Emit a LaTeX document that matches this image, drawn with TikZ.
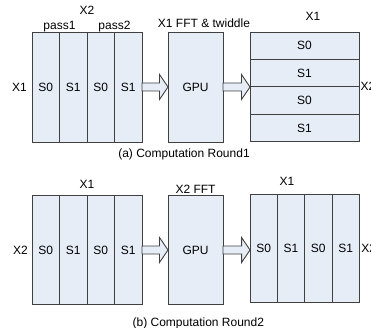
\documentclass[tikz,border=0pt]{standalone}
\usepackage{fontspec}
\setmainfont{Liberation Sans}
\usetikzlibrary{positioning, calc}
\definecolor{cellfill}{RGB}{230,237,247}
\definecolor{cellline}{RGB}{64,64,64}
\tikzset{font=\fontsize{12}{14}\selectfont, node distance=0pt,
	cell/.style={draw=cellline, fill=cellfill, line width=0.9pt, inner sep=0pt, outer sep=0pt, minimum width=27.5pt, minimum height=110pt},
	row/.style={cell, minimum width=109pt, minimum height=27.4pt},
	gpu/.style={cell, minimum width=55pt},
	lbl/.style={inner sep=0pt},
	fatarrow/.style={draw=cellline, fill=cellfill, line width=0.9pt, line join=miter}}
\newcommand{\blockarrow}[2]{%
	\coordinate (tip) at (#1.east -| #2.west);
	\draw[fatarrow] ($(#1.east)+(0,4)$) -- ($(tip)+(-8.5,4)$) -- ($(tip)+(-8.5,12.5)$) -- (tip)
		-- ($(tip)+(-8.5,-12.5)$) -- ($(tip)+(-8.5,-4)$) -- ($(#1.east)+(0,-4)$) -- cycle;}

\begin{document}
\begin{tikzpicture}[x=1pt, y=-1pt]
	\useasboundingbox (0,0) rectangle (371,328);
	% round 1
	\node[cell] (a1) at (45.75,87) {S0};
	\node[cell, right=of a1] (a2) {S1};
	\node[cell, right=of a2] (a3) {S0};
	\node[cell, right=of a3] (a4) {S1};
	\node[gpu] (gpuA) at (195.5,87) {GPU};
	\node[row] (r1) at (304.5,45.7) {S0};
	\node[row, below=of r1] (r2) {S1};
	\node[row, below=of r2] (r3) {S0};
	\node[row, below=of r3] (r4) {S1};
	\node[lbl, above=17pt of a2.north east] (x2a) {X2};
	\node[lbl, above=0pt of a1.north east] (pass1) {pass1};
	\node[lbl, above=0pt of a3.north east] (pass2) {pass2};
	\node[lbl, left=5pt of a1] (x1a) {X1};
	\node[lbl, above=4pt of gpuA, xshift=8.5pt] (fftA) {X1 FFT \& twiddle};
	\node[lbl, above=11pt of r1, xshift=8.5pt] (x1r) {X1};
	\node[lbl, right=1.5pt of r2.south east] (x2r) {X2};
	\node[lbl] (capA) at (184,154) {(a) Computation Round1};
	\blockarrow{a4}{gpuA}
	\blockarrow{gpuA}{r2}
	% round 2
	\node[cell, minimum height=108.3pt] (b1) at (45.75,250) {S0};
	\node[cell, minimum height=108.3pt, right=of b1] (b2) {S1};
	\node[cell, minimum height=108.3pt, right=of b2] (b3) {S0};
	\node[cell, minimum height=108.3pt, right=of b3] (b4) {S1};
	\node[gpu, minimum height=108.3pt] (gpuB) at (195.5,250) {GPU};
	\node[cell, minimum width=27.3pt, minimum height=108.4pt] (c1) at (263.7,248.5) {S0};
	\node[cell, minimum width=27.3pt, minimum height=108.4pt, right=of c1] (c2) {S1};
	\node[cell, minimum width=27.3pt, minimum height=108.4pt, right=of c2] (c3) {S0};
	\node[cell, minimum width=27.3pt, minimum height=108.4pt, right=of c3] (c4) {S1};
	\node[lbl, above=7.4pt of b2.north east] (x1b) {X1};
	\node[lbl, left=4pt of b1] (x2b) {X2};
	\node[lbl, above=2.2pt of gpuB] (fftB) {X2 FFT};
	\node[lbl, above=8.3pt of c2.north, xshift=-4pt] (x1c) {X1};
	\node[lbl, right=2pt of c4] (x2c) {X2};
	\node[lbl] (capB) at (198.3,323) {(b) Computation Round2};
	\blockarrow{b4}{gpuB}
	\blockarrow{gpuB}{c1}
\end{tikzpicture}
\end{document}
